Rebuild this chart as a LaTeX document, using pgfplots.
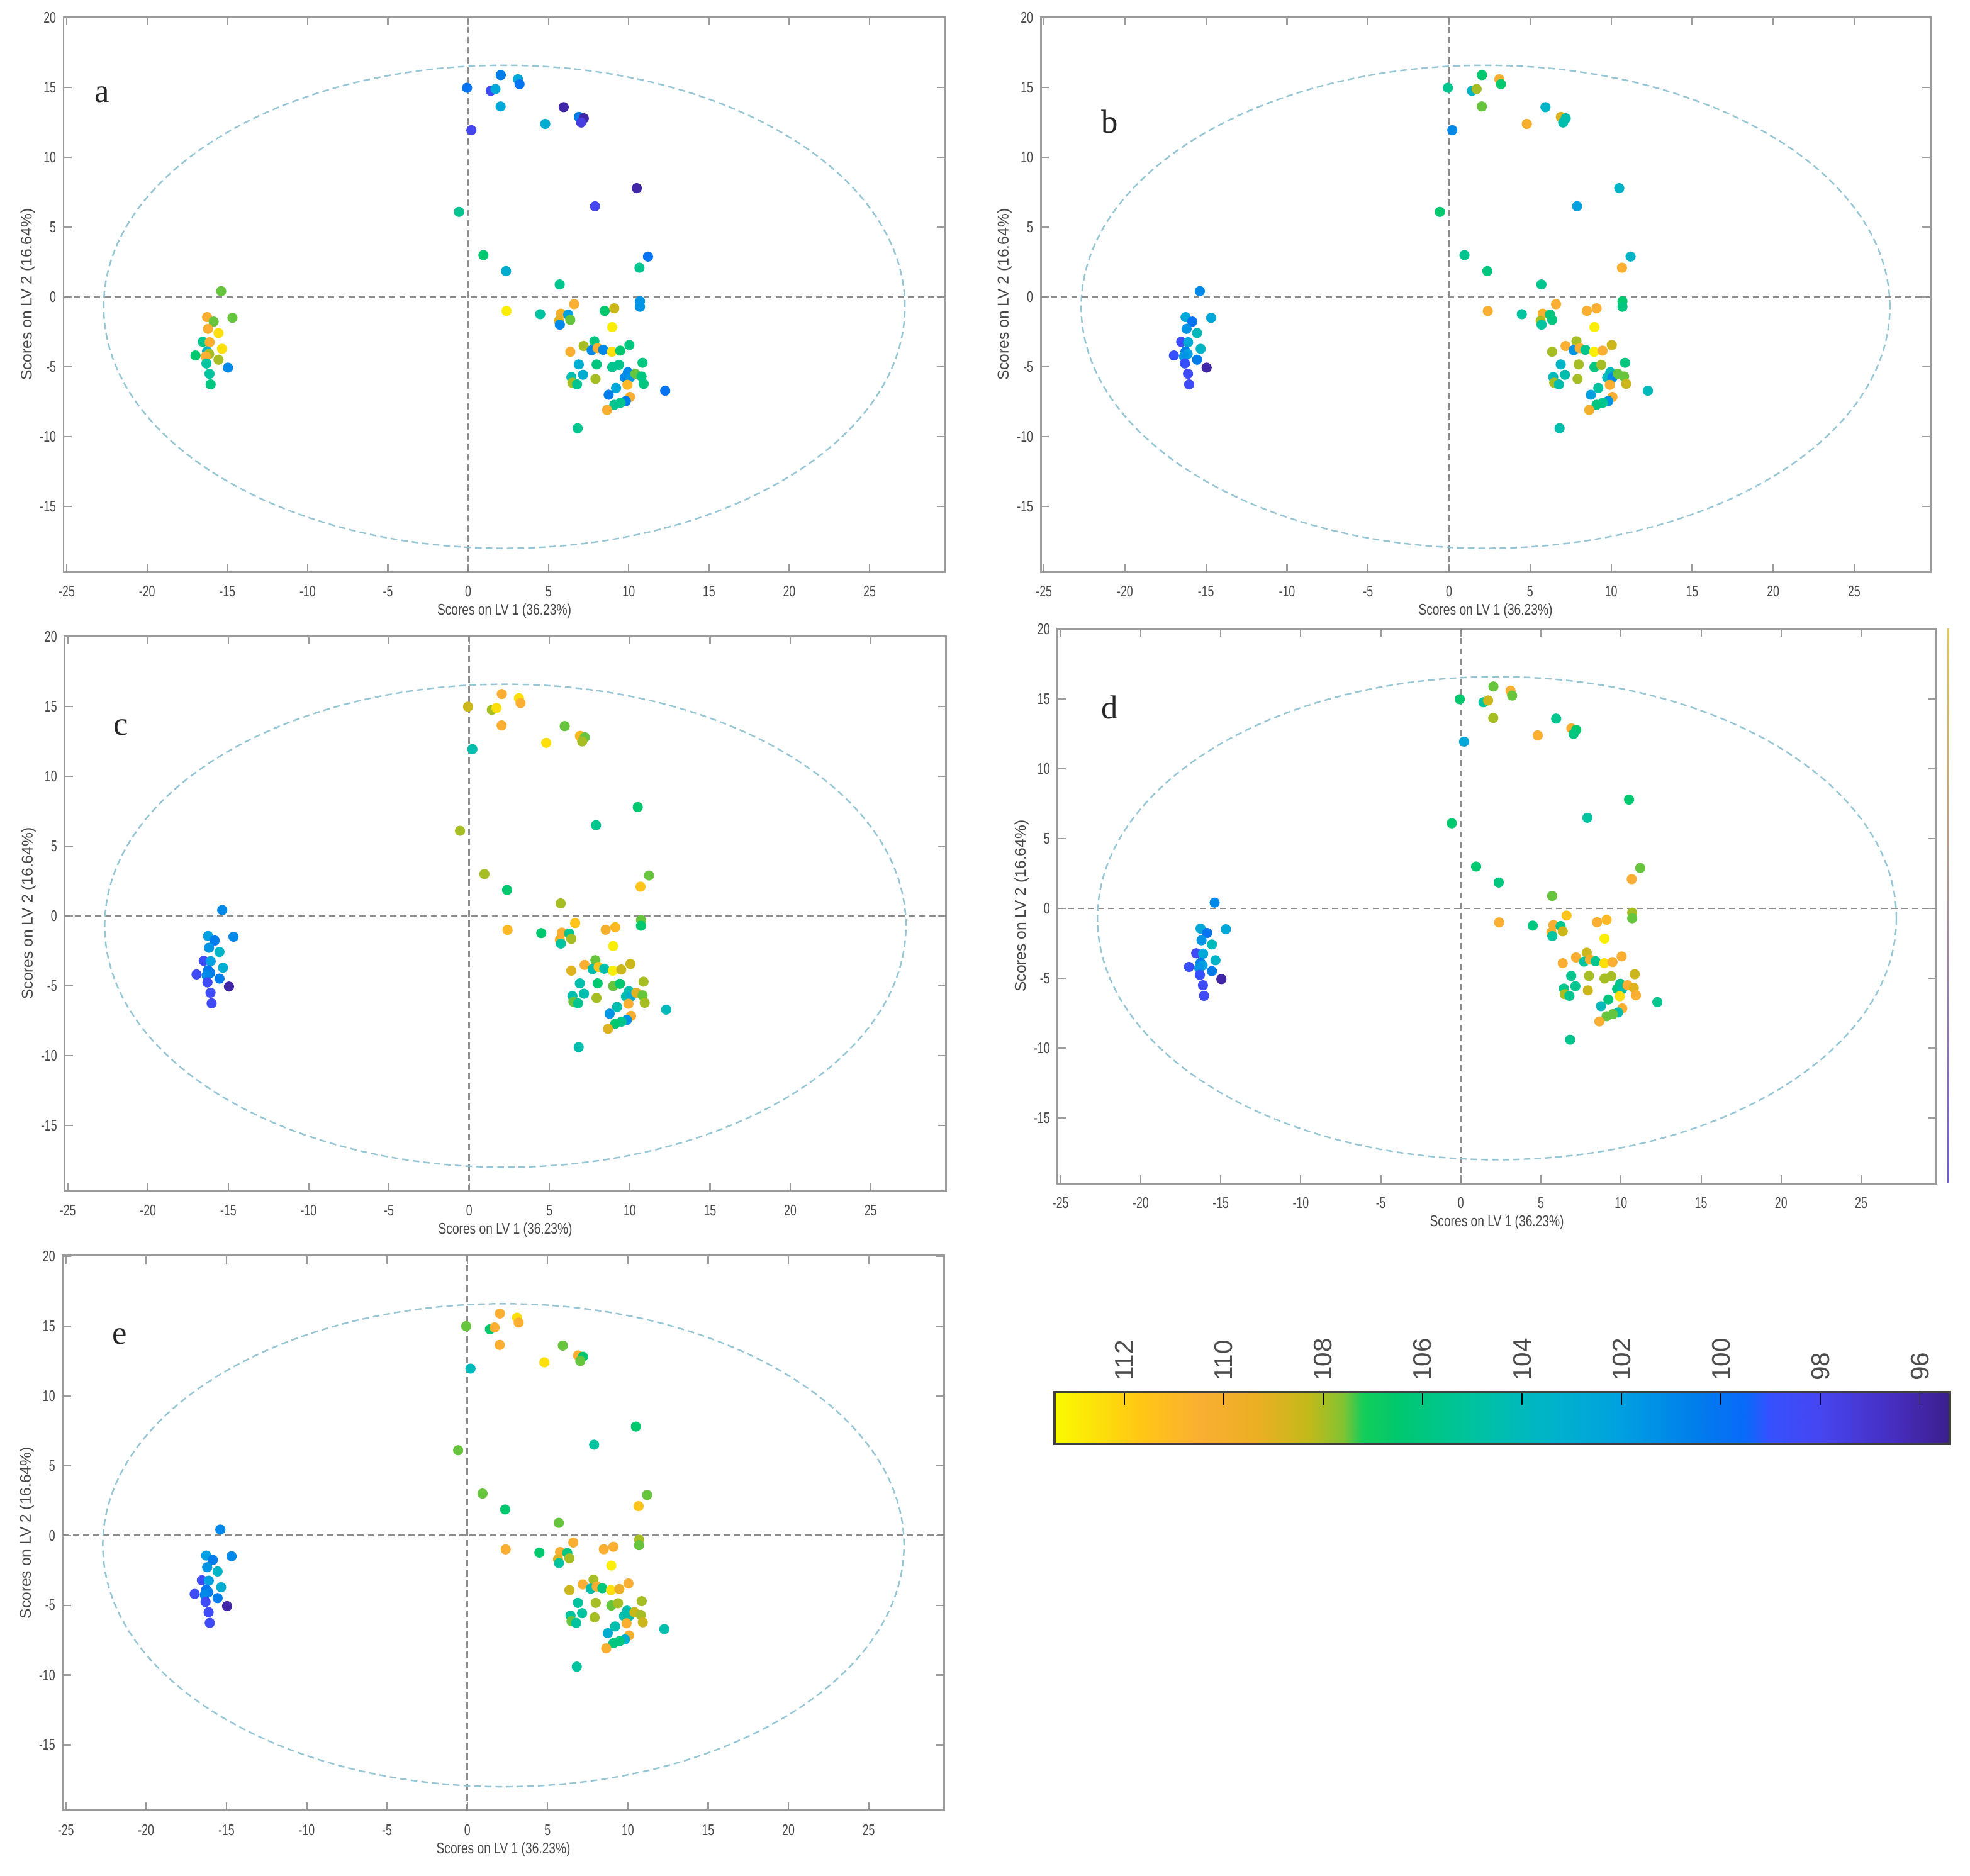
\documentclass[border=0pt]{standalone}
\usepackage{fontspec}
\setmainfont{Liberation Sans}
\newfontfamily\serifl{Liberation Serif}
\usepackage{pgfplots}
\pgfplotsset{compat=1.18}
\usepackage{pgfplotstable}
\definecolor{axgray}{RGB}{155,155,155}
\definecolor{labgray}{RGB}{70,70,70}
\definecolor{ellc}{RGB}{150,198,212}
\definecolor{zgray}{RGB}{140,140,140}

\pgfplotstableread{
x y a b c d e
2.03 15.90 100.5 106.5 110.5 107.5 110.5
-0.07 14.99 100 105.5 108.5 106.5 107.5
1.41 14.77 98.5 103.5 108 105 106.5
1.70 14.90 102.5 108 112.5 108.5 110.5
3.10 15.60 102.5 110.5 112.5 110.5 112.5
3.20 15.25 100 106.5 110.5 107.5 110.5
2.02 13.65 102.5 107.5 110.5 108 110.5
5.95 13.60 96 103.5 107.5 105.5 107.5
4.80 12.40 103 110 112.5 110.5 112.5
6.90 12.90 100.5 109 111 110.5 110.5
7.20 12.80 96 104.5 107.5 106.5 106.5
7.04 12.50 97.5 104.5 108 106 107.5
0.20 11.95 98 101 104.5 102.5 104
10.50 7.80 96 103.5 106.5 106.5 106.5
7.90 6.50 98 102 105.5 105 105
-0.57 6.10 105.5 106.5 108 106.5 107.5
0.95 3.00 106.5 105.5 108 106.5 107.5
11.20 2.90 100 103.5 107.5 107.5 107.5
2.36 1.86 103 106 106.5 106 106.5
10.67 2.10 105.5 110.5 111.5 110.5 111.5
5.70 0.90 105.5 105.5 108 107.5 107.5
10.70 -0.30 101.5 106.5 107.5 108 108
10.70 -0.70 101.5 106 106.5 107.5 107.5
6.60 -0.51 110.5 110.5 111.5 111.5 110.5
2.39 -1.00 113 110.5 111 110.5 110.5
4.49 -1.23 105 105 106.5 106 106.5
5.78 -1.19 110 110.5 110.5 110.5 110.5
5.65 -1.71 109 108 110.5 110 109
5.71 -1.98 101 105 105 105 105
6.23 -1.26 102 106 105.5 105.5 106
6.36 -1.64 107.5 106 108 108.5 108
8.50 -0.99 106.5 110.5 110 110.5 110.5
9.10 -0.81 108.5 110.5 111 111 110.5
8.97 -2.16 113 113 113 113 113
7.19 -3.51 108 110.5 110.5 110.5 110.5
7.86 -3.17 106 108 107.5 108.5 108
6.36 -3.92 110.5 108 109 110.5 108.5
7.69 -3.81 101 101.5 104.5 105 104.5
8.06 -3.66 110.5 110.5 111.5 110 110.5
8.41 -3.78 101 105.5 104.5 105.5 106
8.95 -3.92 112.5 113 113 112.5 112.5
9.47 -3.84 106.5 110.5 108.5 110.5 109.5
10.04 -3.44 106 108.5 108.5 110.5 110.5
6.89 -4.83 103 103.5 104.5 105.5 105
8.00 -4.83 106 108 106.5 108 108
8.97 -5.02 105.5 106 107.5 108 107.5
9.39 -4.86 105.5 108 106.5 108 108
10.86 -4.71 106 106 108 108.5 108
7.15 -5.57 103 104.5 104.5 105.5 105
6.43 -5.74 104.5 104 104.5 105.5 105
6.49 -6.14 108 108 107.5 108 107.5
6.78 -6.26 105.5 104.5 105.5 105.5 105
7.93 -5.87 108 108 108 108.5 108
9.95 -5.39 101 104 104.5 105.5 104.5
9.76 -5.77 101 104 104.5 106 104.5
10.08 -5.77 101.5 101 103 104.5 104.5
10.41 -5.50 107.5 107.5 109 110.5 108.5
10.80 -5.69 106 107.5 107.5 109 108
10.93 -6.22 106 108.5 108 110.5 108.5
9.92 -6.29 111 110.5 110.5 112.5 110.5
9.21 -6.52 102.5 105 104.5 106 104.5
8.75 -7.00 100.5 102 101.5 104 103
10.08 -7.16 110.5 110.5 110.5 110.5 110.5
9.82 -7.45 100.5 101.5 101.5 104.5 103
9.49 -7.57 105.5 105.5 105.5 107.5 106
9.10 -7.72 105.5 106 106.5 107.5 106
8.65 -8.09 110.5 110 109 110.5 110.5
12.27 -6.71 100 104 104 105.5 104.5
6.82 -9.40 105.5 104.5 104.5 105.5 105
-15.38 0.42 107.5 101 101 101 101
-16.26 -1.44 110.5 102.5 102 102.5 102
-15.85 -1.76 107.5 100 100.5 100 100.5
-14.68 -1.49 107.5 102.5 101 102.5 101
-16.20 -2.28 110.5 101.5 101.5 101.5 101.5
-15.55 -2.58 112.5 104 103.5 104 103.5
-16.53 -3.21 105.5 98.5 98.5 98.5 98.5
-16.10 -3.24 110.5 102.5 102 102.5 102
-15.33 -3.71 112.5 103.5 103 103.5 103
-16.98 -4.19 106.5 99 98.5 99 98.5
-16.26 -3.89 103.5 100.5 100 100.5 100
-16.13 -4.08 108 102 100.5 102 100.5
-16.35 -4.26 110.5 101.5 101 101.5 101
-15.55 -4.49 108 100.5 100.5 100.5 100.5
-16.30 -4.76 105 99 98.5 99 98.5
-14.96 -5.06 101 96 96 96 96
-16.11 -5.50 105 98.5 98.5 98.5 98.5
-16.04 -6.26 106 98.5 98.5 98.5 98.5
}\pts

\pgfplotstableread{
x y
95.4 0
96.5 0
98 0
99 0
99.5 0
100.5 0
102 0
103.5 0
105 0
106.5 0
107.2 0
107.6 0
108.3 0
109.3 0
110.5 0
111.7 0
113.4 0
95.4 1
96.5 1
98 1
99 1
99.5 1
100.5 1
102 1
103.5 1
105 1
106.5 1
107.2 1
107.6 1
108.3 1
109.3 1
110.5 1
111.7 1
113.4 1
}\cbar

\tikzset{
 ell/.style={ellc, line width=0.7pt, dash pattern=on 3pt off 1.8pt},
}
\pgfplotsset{
 colormap={pcm}{rgb255(0pt)=(60,30,140); rgb255(11pt)=(70,45,190); rgb255(26pt)=(70,70,240); rgb255(36pt)=(55,80,255); rgb255(41pt)=(10,105,250); rgb255(51pt)=(0,125,235); rgb255(66pt)=(0,160,225); rgb255(81pt)=(0,180,200); rgb255(96pt)=(0,195,160); rgb255(111pt)=(0,200,110); rgb255(118pt)=(20,205,90); rgb255(122pt)=(130,195,50); rgb255(129pt)=(195,185,25); rgb255(139pt)=(235,175,35); rgb255(151pt)=(250,175,50); rgb255(163pt)=(255,200,20); rgb255(180pt)=(250,250,0)},
 panel/.style={
  scale only axis, height=8.82cm, anchor=south west,
  xmin=-25.2, xmax=29.7, ymin=-19.7, ymax=20.05,
  xtick={-25,-20,...,25}, ytick={-15,-10,...,20},
  tick align=inside, tick pos=both, major tick length=0.13cm,
  axis line style={draw=axgray, line width=0.85pt},
  every tick/.append style={draw=axgray, line width=0.6pt},
  /pgf/number format/assume math mode=true,
  tick label style={font=\fontsize{7}{8}\selectfont, text=labgray, xscale=0.72},
  xticklabel shift=0.1cm, yticklabel shift=0.03cm,
  xlabel={Scores on LV 1 (36.23\%)}, ylabel={Scores on LV 2 (16.64\%)},
  xlabel style={font=\fontsize{7}{8}\selectfont, text=labgray, at={(axis description cs:0.5,-0.0703)}, anchor=center, xscale=0.78},
  ylabel style={font=\fontsize{7}{8}\selectfont, text=labgray, at={(axis description cs:-0.0407,0.5)}, anchor=center},
  point meta min=95.4, point meta max=113.4,
 },
 zline/.style={zgray, line width=0.8pt, dash pattern=on 2.8pt off 1.8pt},
 pts/.style={scatter, only marks, mark=*, mark size=2.1pt, scatter src=explicit,
   scatter/use mapped color={draw=mapped color, fill=mapped color}},
}

\newcommand{\panelbody}[1]{%
  \addplot[zline] coordinates {(-25.2,0) (29.7,0)};
  \addplot[zline] coordinates {(0,-19.7) (0,20.05)};
  \draw[ell] (axis cs:2.25,-0.7) ellipse [x radius=24.95, y radius=17.3];
  \addplot[pts] table[x=x, y=y, meta=#1] {\pts};
}

\begin{document}
\begin{tikzpicture}
\useasboundingbox (0,0) rectangle (31.31cm,29.82cm);

% a
\begin{axis}[panel, at={(1.01cm,20.727cm)}, width=14.01cm]
\panelbody{a}
\end{axis}
% b
\begin{axis}[panel, at={(16.54cm,20.727cm)}, width=14.14cm]
\panelbody{b}
\end{axis}
% c
\begin{axis}[panel, at={(1.026cm,10.889cm)}, width=14.01cm]
\panelbody{c}
\end{axis}
% d
\begin{axis}[panel, at={(16.806cm,11.008cm)}, width=13.97cm]
\panelbody{d}
\end{axis}
% e
\begin{axis}[panel, at={(0.996cm,1.042cm)}, width=14.01cm]
\panelbody{e}
\end{axis}

% colour bar
\begin{axis}[at={(16.76cm,6.87cm)}, anchor=south west, scale only axis,
  width=14.23cm, height=0.82cm,
  xmin=95.4, xmax=113.4, ymin=0, ymax=1, x dir=reverse,
  point meta min=95.4, point meta max=113.4,
  xtick={96,98,...,112}, ytick=\empty,
  xtick pos=right, xticklabel pos=right, tick align=inside,
  major tick length=0.2cm, every tick/.append style={black, line width=0.5pt},
  axis line style={draw=black!75, line width=0.9pt},
  /pgf/number format/assume math mode=true,
  xticklabel style={rotate=90, anchor=west, font=\fontsize{11.5}{12}\selectfont, text=black!70},
  xticklabel shift=0.06cm,
  axis on top]
\addplot[surf, shader=interp, mesh/cols=17, point meta=x] table[x=x, y=y] {\cbar};
\end{axis}

% thin strip at right of panel d
\shade[top color={rgb,255:red,230;green,200;blue,90}, middle color={rgb,255:red,80;green,190;blue,180}, bottom color={rgb,255:red,110;green,90;blue,210}] (30.95cm,11.02cm) rectangle (30.975cm,19.82cm);

% panel letters
\begin{scope}[every node/.style={font=\serifl\fontsize{15}{16}\selectfont, text=black!85}]
\node at (1.62cm,28.32cm) {a};
\node at (17.64cm,27.88cm) {b};
\node at (1.92cm,18.26cm) {c};
\node at (17.64cm,18.58cm) {d};
\node at (1.90cm,8.58cm) {e};
\end{scope}
\end{tikzpicture}
\end{document}
